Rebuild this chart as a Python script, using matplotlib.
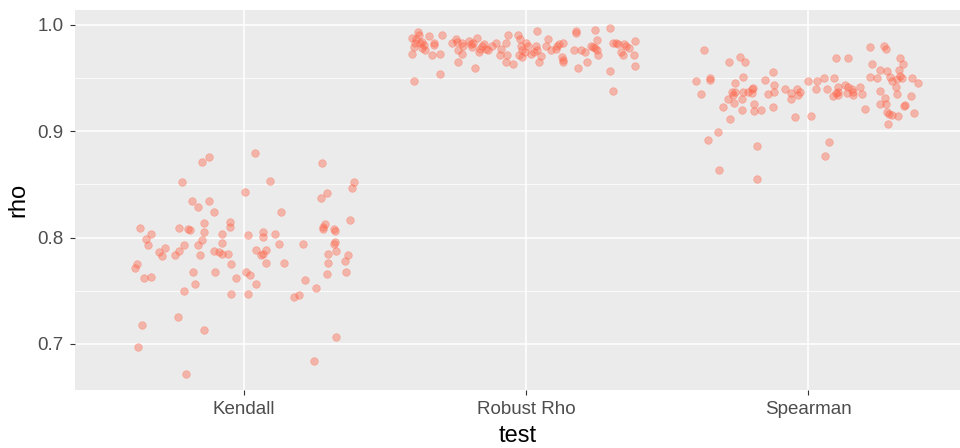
import matplotlib
matplotlib.use("Agg")
import matplotlib.pyplot as plt
import numpy as np

plt.rcParams['font.family'] = ['Liberation Sans', 'DejaVu Sans']

tests = ["Kendall", "Robust Rho", "Spearman"]

# rho values, with the horizontal jitter of each point
kendall_rho = [0.871, 0.876, 0.852, 0.843, 0.834, 0.834, 0.829, 0.824, 0.814, 0.815,
               0.810, 0.809, 0.809, 0.808, 0.807, 0.805, 0.803, 0.803, 0.802, 0.799,
               0.798, 0.793, 0.793, 0.793, 0.795, 0.790, 0.786, 0.783, 0.787, 0.784,
               0.784, 0.787, 0.786, 0.785, 0.785, 0.775, 0.775, 0.771, 0.762, 0.763,
               0.768, 0.768, 0.762, 0.768, 0.765, 0.756, 0.750, 0.747, 0.747, 0.725,
               0.718, 0.713, 0.697, 0.672, 0.880, 0.870, 0.853, 0.852, 0.847, 0.842,
               0.837, 0.824, 0.817, 0.813, 0.810, 0.808, 0.808, 0.806, 0.805, 0.801,
               0.803, 0.794, 0.794, 0.796, 0.794, 0.788, 0.788, 0.784, 0.785, 0.785,
               0.787, 0.784, 0.778, 0.776, 0.776, 0.776, 0.766, 0.768, 0.756, 0.760,
               0.753, 0.744, 0.746, 0.706, 0.684]
kendall_jit = [-0.151, -0.124, -0.219, 0.004, -0.185, -0.123, -0.163, -0.107, -0.142, -0.052,
               -0.049, -0.370, -0.230, -0.198, -0.191, -0.142, -0.331, -0.079, 0.015, -0.348,
               -0.150, -0.340, -0.213, -0.163, -0.079, -0.281, -0.302, -0.292, -0.230, -0.247,
               -0.157, -0.107, -0.091, -0.079, -0.058, -0.380, -0.046, -0.387, -0.357, -0.330,
               -0.180, -0.103, -0.029, 0.007, 0.021, -0.175, -0.213, -0.046, 0.014, -0.235,
               -0.363, -0.142, -0.375, -0.208, 0.038, 0.277, 0.092, 0.389, 0.383, 0.293,
               0.272, 0.131, 0.377, 0.287, 0.281, 0.278, 0.317, 0.323, 0.066, 0.066,
               0.110, 0.122, 0.210, 0.323, 0.317, 0.043, 0.077, 0.060, 0.068, 0.299,
               0.326, 0.370, 0.356, 0.077, 0.143, 0.299, 0.293, 0.361, 0.043, 0.215,
               0.254, 0.176, 0.193, 0.326, 0.248]

robust_rho = [0.993, 0.991, 0.988, 0.987, 0.990, 0.991, 0.983, 0.983, 0.984, 0.981,
              0.978, 0.976, 0.979, 0.983, 0.981, 0.973, 0.972, 0.973, 0.983, 0.987,
              0.984, 0.983, 0.980, 0.985, 0.982, 0.979, 0.988, 0.983, 0.976, 0.973,
              0.977, 0.980, 0.982, 0.977, 0.975, 0.976, 0.980, 0.983, 0.977, 0.983,
              0.991, 0.972, 0.972, 0.991, 0.987, 0.980, 0.976, 0.972, 0.970, 0.965,
              0.960, 0.965, 0.963, 0.954, 0.947, 0.994, 0.983, 0.980, 0.973, 0.975,
              0.980, 0.976, 0.975, 0.971, 0.965, 0.987, 0.980, 0.976, 0.977, 0.980,
              0.982, 0.983, 0.970, 0.967, 0.965, 0.994, 0.992, 0.976, 0.976, 0.975,
              0.960, 0.965, 0.980, 0.979, 0.978, 0.986, 0.976, 0.972, 0.995, 0.997,
              0.983, 0.983, 0.982, 0.982, 0.980, 0.975, 0.972, 0.978, 0.985, 0.972,
              0.961, 0.957, 0.938]
robust_jit = [-0.382, -0.379, -0.403, -0.389, -0.346, -0.297, -0.394, -0.377, -0.368, -0.362,
              -0.370, -0.358, -0.397, -0.326, -0.326, -0.403, -0.332, -0.304, -0.263, -0.249,
              -0.244, -0.226, -0.223, -0.202, -0.196, -0.193, -0.175, -0.190, -0.241, -0.226,
              -0.163, -0.157, -0.149, -0.141, -0.167, -0.134, -0.120, -0.107, -0.090, -0.072,
              -0.063, -0.092, -0.068, -0.028, -0.022, -0.019, -0.013, -0.025, -0.013, -0.241,
              -0.181, -0.070, -0.046, -0.304, -0.398, 0.037, -0.001, 0.005, 0.017, -0.004,
              0.034, 0.037, 0.028, 0.052, 0.046, 0.076, 0.070, 0.088, 0.105, 0.111,
              0.117, 0.131, 0.129, 0.131, 0.131, 0.176, 0.176, 0.170, 0.194, 0.209,
              0.185, 0.215, 0.229, 0.238, 0.245, 0.253, 0.253, 0.255, 0.245, 0.297,
              0.310, 0.318, 0.327, 0.348, 0.356, 0.336, 0.344, 0.365, 0.387, 0.383,
              0.387, 0.297, 0.310]

spearman_rho = [0.976, 0.970, 0.965, 0.965, 0.956, 0.951, 0.947, 0.950, 0.948, 0.945,
                0.948, 0.944, 0.947, 0.935, 0.937, 0.937, 0.934, 0.937, 0.940, 0.941,
                0.936, 0.937, 0.930, 0.927, 0.930, 0.935, 0.937, 0.940, 0.936, 0.940,
                0.937, 0.934, 0.930, 0.926, 0.923, 0.920, 0.919, 0.920, 0.923, 0.912,
                0.913, 0.914, 0.899, 0.892, 0.886, 0.864, 0.855, 0.921, 0.918, 0.916,
                0.915, 0.914, 0.917, 0.907, 0.890, 0.877, 0.979, 0.980, 0.977, 0.969,
                0.969, 0.969, 0.963, 0.963, 0.958, 0.957, 0.958, 0.951, 0.950, 0.951,
                0.947, 0.949, 0.950, 0.952, 0.950, 0.945, 0.947, 0.950, 0.950, 0.940,
                0.940, 0.942, 0.937, 0.936, 0.944, 0.942, 0.940, 0.937, 0.942, 0.933,
                0.934, 0.936, 0.934, 0.935, 0.938, 0.942, 0.935, 0.933, 0.926, 0.931,
                0.926, 0.924, 0.925]
spearman_jit = [-0.369, -0.241, -0.223, -0.280, -0.125, -0.229, -0.397, -0.348, -0.348, -0.259,
                -0.152, -0.120, -0.001, -0.380, -0.271, -0.259, -0.265, -0.229, -0.200, -0.194,
                -0.200, -0.214, -0.283, -0.261, -0.235, -0.143, -0.120, -0.082, -0.060, -0.040,
                -0.028, -0.034, -0.060, -0.190, -0.302, -0.235, -0.190, -0.167, -0.125, -0.277,
                -0.046, 0.011, -0.320, -0.354, -0.181, -0.315, -0.181, 0.203, 0.279, 0.287,
                0.297, 0.320, 0.377, 0.283, 0.076, 0.060, 0.221, 0.270, 0.277, 0.098,
                0.143, 0.326, 0.338, 0.226, 0.255, 0.279, 0.324, 0.220, 0.244, 0.291,
                0.299, 0.315, 0.332, 0.326, 0.370, 0.389, 0.031, 0.058, 0.093, 0.027,
                0.066, 0.105, 0.107, 0.098, 0.131, 0.143, 0.155, 0.161, 0.184, 0.090,
                0.107, 0.137, 0.161, 0.193, 0.255, 0.311, 0.315, 0.365, 0.255, 0.273,
                0.277, 0.341, 0.344]

groups = [(kendall_jit, kendall_rho), (robust_jit, robust_rho), (spearman_jit, spearman_rho)]

fig = plt.figure(figsize=(9.6, 4.48), dpi=100)
ax = fig.add_axes([75/960, 58/448, 885/960, 380/448])
ax.set_facecolor("#EBEBEB")
for s in ax.spines.values():
    s.set_visible(False)

ax.set_axisbelow(True)
ax.set_yticks([0.7, 0.8, 0.9, 1.0])
ax.set_yticklabels(["0.7", "0.8", "0.9", "1.0"])
ax.set_yticks([0.75, 0.85, 0.95], minor=True)
ax.set_xticks([1, 2, 3])
ax.set_xticklabels(tests)
ax.grid(which="major", color="white", linewidth=1.1)
ax.grid(which="minor", axis="y", color="white", linewidth=0.55)
ax.tick_params(which="minor", length=0)
ax.tick_params(which="major", length=3.6, width=0.8, color="#333333",
               labelcolor="#4D4D4D", labelsize=13.5, pad=4.5)

for i, (jit, rho) in enumerate(groups):
    xs = (i + 1) + np.array(jit)
    ax.scatter(xs, rho, s=30, color="#FF6347", alpha=0.4,
               edgecolors="#FF6347", linewidths=0.5, zorder=3)

ax.set_xlim(0.4, 3.539)
ax.set_ylim(0.6566, 1.0141)
ax.set_xlabel("test", fontsize=17, labelpad=5)
ax.set_ylabel("rho", fontsize=17, labelpad=6)

plt.savefig("out.png", dpi=100)
plt.close()
